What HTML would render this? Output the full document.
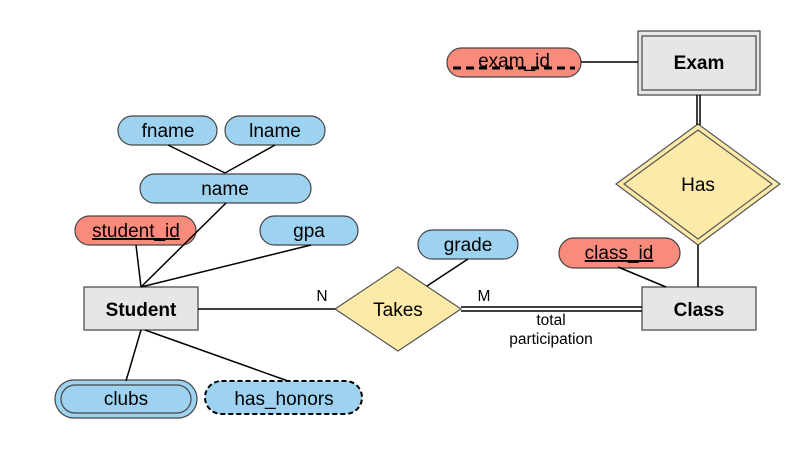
<!DOCTYPE html>
<html><head><meta charset="utf-8"><style>
html,body{margin:0;padding:0;background:#fff;width:804px;height:454px;overflow:hidden}
svg{display:block}
text{font-family:"Liberation Sans",Arial,sans-serif;fill:#000}
</style></head><body>
<svg width="804" height="454" viewBox="0 0 804 454" xmlns="http://www.w3.org/2000/svg">
<g stroke="#444" stroke-width="1.2">
<rect x="118" y="116" width="99" height="29" rx="14.5" fill="#9dd3f0"/>
<rect x="225" y="116" width="100" height="29" rx="14.5" fill="#9dd3f0"/>
<rect x="140" y="174" width="171" height="29" rx="14.5" fill="#9dd3f0"/>
<rect x="75" y="216" width="121" height="29" rx="14.5" fill="#f98b7c"/>
<rect x="260" y="216" width="98" height="29" rx="14.5" fill="#9dd3f0"/>
<rect x="418" y="230" width="100" height="29" rx="14.5" fill="#9dd3f0"/>
<rect x="559" y="238" width="121" height="30" rx="15" fill="#f98b7c"/>
<rect x="447" y="48" width="134" height="29" rx="14.5" fill="#f98b7c"/>
<rect x="55" y="380" width="142" height="38" rx="19" fill="#9dd3f0"/>
<rect x="61" y="385" width="130" height="28" rx="14" fill="none"/>
<rect x="205" y="381" width="157" height="33" rx="16.5" fill="#9dd3f0" stroke="#000" stroke-width="2" stroke-dasharray="5,3"/>
<rect x="84" y="287" width="114" height="43" fill="#e6e6e6"/>
<rect x="642" y="287" width="114" height="43" fill="#e6e6e6"/>
<rect x="638" y="31" width="122" height="64" fill="#e6e6e6"/>
<rect x="642" y="36" width="114" height="54" fill="none"/>
<polygon points="335,309 398,267 461,309 398,351" fill="#fde9a8" stroke="#555"/>
<polygon points="616,184 698,124 780,184 698,245" fill="#fde9a8" stroke="#555"/>
<polygon points="624,184 698,130 772,184 698,239" fill="none" stroke="#555"/>
</g>
<g stroke="#000" stroke-width="1.5" fill="none">
<line x1="168" y1="145" x2="225" y2="173"/>
<line x1="275" y1="145" x2="225" y2="173"/>
<line x1="226" y1="203" x2="141" y2="287"/>
<line x1="136" y1="245" x2="141" y2="287"/>
<line x1="311" y1="245" x2="141" y2="287"/>
<line x1="198" y1="309" x2="335" y2="309"/>
<line x1="141" y1="330" x2="126" y2="381"/>
<line x1="145" y1="330" x2="288" y2="381"/>
<line x1="468" y1="259" x2="427" y2="286"/>
<line x1="461" y1="307" x2="642" y2="307"/>
<line x1="461" y1="311" x2="642" y2="311"/>
<line x1="581" y1="62" x2="638" y2="62"/>
<line x1="697" y1="95" x2="697" y2="125"/>
<line x1="700" y1="95" x2="700" y2="125"/>
<line x1="698" y1="245" x2="698" y2="287"/>
<line x1="618" y1="267" x2="666" y2="287"/>
</g>
<line x1="453" y1="68" x2="575" y2="68" stroke="#000" stroke-width="3" stroke-dasharray="8,5"/>
<g font-size="19" text-anchor="middle">
<text x="168" y="137">fname</text>
<text x="275" y="137">lname</text>
<text x="225" y="195">name</text>
<text x="136" y="237" text-decoration="underline">student_id</text>
<text x="309" y="237">gpa</text>
<text x="468" y="251">grade</text>
<text x="619" y="259" text-decoration="underline">class_id</text>
<text x="514" y="67">exam_id</text>
<text x="126" y="405">clubs</text>
<text x="284" y="405">has_honors</text>
<text x="398" y="316">Takes</text>
<text x="698" y="191">Has</text>
<text x="141" y="316" font-weight="bold">Student</text>
<text x="699" y="316" font-weight="bold">Class</text>
<text x="699" y="69" font-weight="bold">Exam</text>
</g>
<g font-size="15.5" text-anchor="middle">
<text x="322" y="301">N</text>
<text x="484" y="301">M</text>
<text x="551" y="325">total</text>
<text x="551" y="344">participation</text>
</g>
</svg>
</body></html>
